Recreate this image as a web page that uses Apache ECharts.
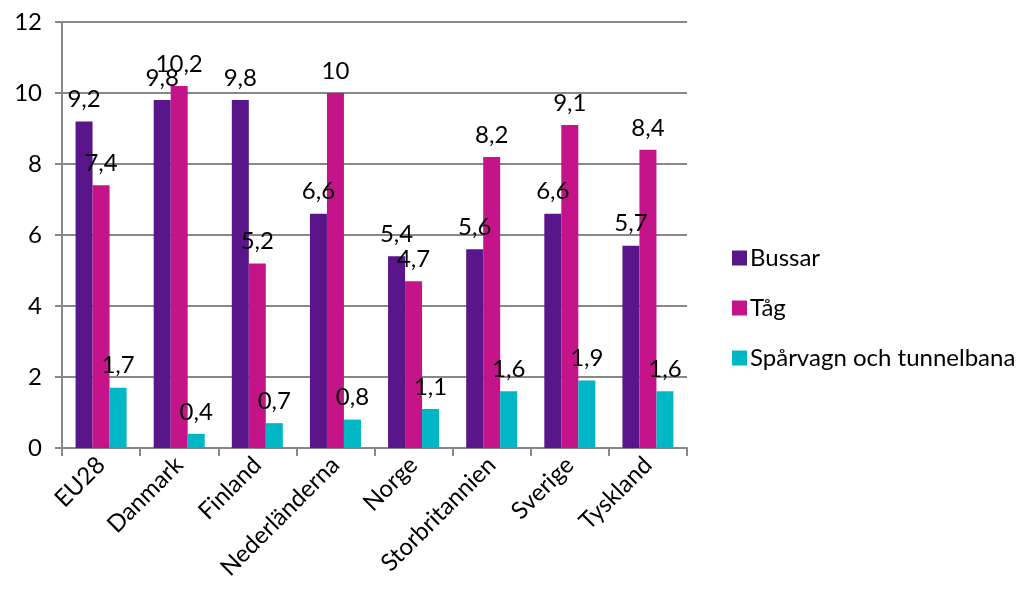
<!DOCTYPE html>
<html><head><meta charset="utf-8">
<script src="https://cdn.jsdelivr.net/npm/echarts@6/dist/echarts.min.js"></script>
<style>html,body{margin:0;padding:0;background:#fff}#c{width:1029px;height:601px}</style>
</head><body><div id="c"></div>
<script>
const categories = ['EU28','Danmark','Finland','Nederländerna','Norge','Storbritannien','Sverige','Tyskland'];
const bussar = [9.2, 9.8, 9.8, 6.6, 5.4, 5.6, 6.6, 5.7];
const tag = [7.4, 10.2, 5.2, 10, 4.7, 8.2, 9.1, 8.4];
const sparvagn = [1.7, 0.4, 0.7, 0.8, 1.1, 1.6, 1.9, 1.6];
const seriesNames = ['Bussar','Tåg','Spårvagn och tunnelbana'];
const colors = ['#59168a','#c5148a','#00b7c6'];

const font = 'Lato, "Open Sans", sans-serif';
const chart = echarts.init(document.getElementById('c'));
const mk = (name, data, color) => ({
  name, type: 'bar', data, barWidth: 17, barGap: '0%',
  itemStyle: { color },
  label: { show: true, position: 'top', distance: 10, color: '#000', fontSize: 24, fontFamily: font,
    formatter: p => String(p.value).replace('.', ',') }
});
chart.setOption({
  animation: false,
  grid: { left: 62, right: 342, top: 22, bottom: 153, containLabel: false },
  legend: {
    orient: 'vertical', left: 727, top: 241, itemWidth: 15, itemHeight: 15, itemGap: 26,
    icon: 'rect', textStyle: { fontSize: 24, fontFamily: font, color: '#000', padding: [0,0,0,-2] },
    data: seriesNames
  },
  xAxis: {
    type: 'category', data: categories,
    axisLine: { lineStyle: { color: '#888', width: 2 } },
    axisTick: { show: true, length: 8, lineStyle: { color: '#888', width: 2 } },
    axisLabel: { rotate: 45, fontSize: 24, fontFamily: font, color: '#000', margin: 13, interval: 0 }
  },
  yAxis: {
    type: 'value', min: 0, max: 12, interval: 2,
    axisLine: { show: true, lineStyle: { color: '#888', width: 2 } },
    axisTick: { show: true, length: 7, lineStyle: { color: '#888', width: 2 } },
    splitLine: { lineStyle: { color: '#888', width: 2 } },
    axisLabel: { fontSize: 24, fontFamily: font, color: '#000', margin: 20 }
  },
  series: [mk(seriesNames[0], bussar, colors[0]), mk(seriesNames[1], tag, colors[1]), mk(seriesNames[2], sparvagn, colors[2])]
});
</script></body></html>
